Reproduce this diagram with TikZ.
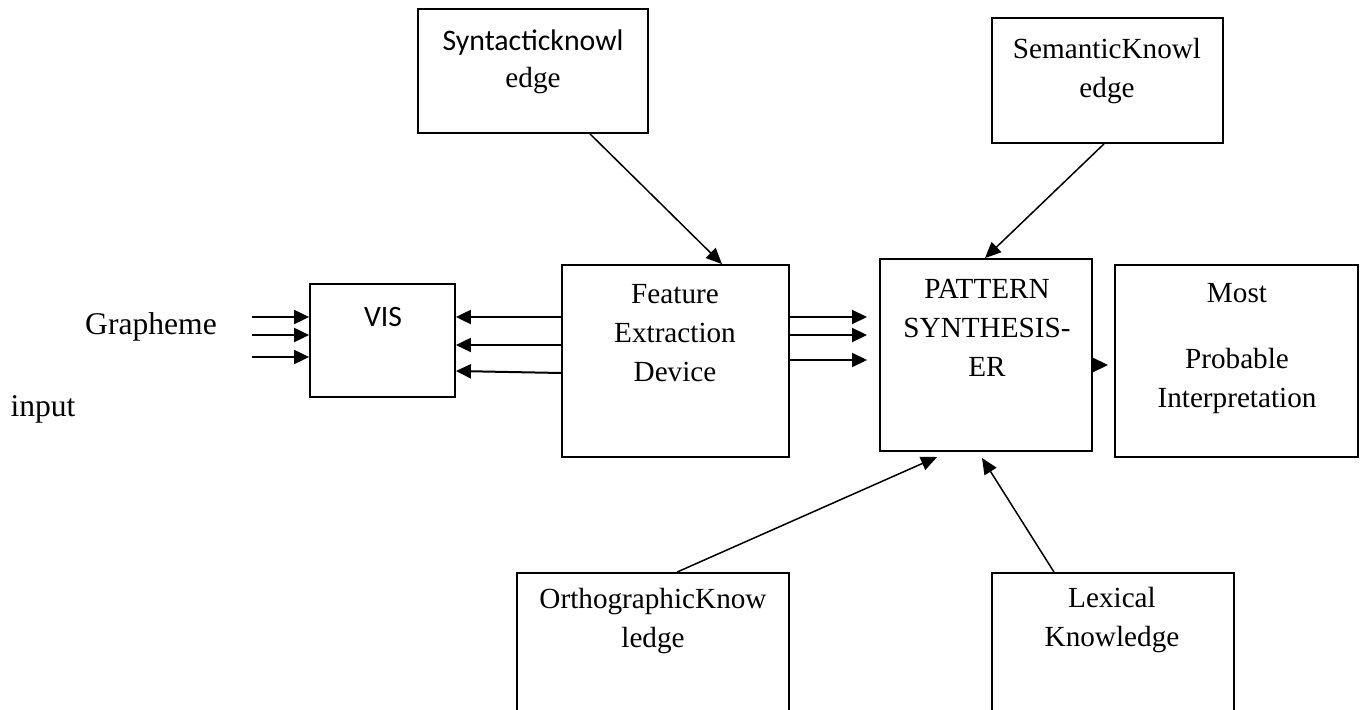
\documentclass[tikz,border=0pt]{standalone}
\usepackage{fontspec}
\setmainfont{Liberation Serif}
\newfontfamily\calib{Carlito}
\usetikzlibrary{arrows.meta,calc}
\begin{document}
\begin{tikzpicture}[x=0.5pt,y=-0.5pt,
  box/.style={draw,line width=0.9pt,rectangle,inner sep=0pt},
  txt/.style={align=center,inner sep=0pt,font=\fontsize{14.6}{19.5}\selectfont},
  big/.style={inner sep=0pt,font=\fontsize{15.8}{19.5}\selectfont},
  arr/.style={line width=1pt,-{Triangle[length=7.5pt,width=7pt]}},
  darr/.style={line width=0.75pt,-{Triangle[length=8pt,width=7pt]}}]
\useasboundingbox (0,0) rectangle (1364,710);
\clip (0,0) rectangle (1364,710);
% boxes
\node[box,minimum width=72.5pt,minimum height=56.5pt] (vis) at (382.5,340.5) {};
\node[box,minimum width=113.5pt,minimum height=96pt] (feat) at (675.5,361) {};
\node[box,minimum width=106pt,minimum height=96pt] (pat) at (986,355) {};
\node[box,minimum width=121.5pt,minimum height=96pt] (most) at (1236.5,361) {};
\node[box,minimum width=115pt,minimum height=62pt] (syn) at (533,71) {};
\node[box,minimum width=115.5pt,minimum height=62.5pt] (sem) at (1107.5,80.5) {};
\node[box,minimum width=136pt,minimum height=83.5pt] (orth) at (653,656.5) {};
\node[box,minimum width=121pt,minimum height=83.5pt] (lex) at (1113,656.5) {};
% texts
\node[big] (tg) at (151,327) {Grapheme};
\node[big] (ti) at (43,409) {input};
\node[txt,font=\calib\fontsize{14.8}{19}\selectfont] (tv) at (383,317) {VIS};
\node[txt] (tf) at (675,333) {Feature\\Extraction\\Device};
\node[txt] (tp) at (987,328) {PATTERN\\SYNTHESIS-\\ER};
\node[txt] (tm1) at (1237,293) {Most};
\node[txt] (tm2) at (1237,381) {Probable\\Interpretation};
\node[txt,font=\calib\fontsize{14.9}{19}\selectfont] (ts1) at (533,43) {Syntacticknowl};
\node[txt] (ts2) at (533,81) {edge};
\node[txt] (tse) at (1107,71) {SemanticKnowl\\edge};
\node[txt] (to) at (653,621) {OrthographicKnow\\ledge};
\node[txt] (tl) at (1112,620) {Lexical\\Knowledge};
% free ends
\coordinate (g1) at (252,317);
\coordinate (g2) at (252,335);
\coordinate (g3) at (252,357);
\coordinate (p1) at (867,317);
\coordinate (p2) at (867,335);
\coordinate (p3) at (867,360);
\coordinate (m1) at (1108,365);
% connectors
\draw[arr] (g1) -- (vis.west |- g1);
\draw[arr] (g2) -- (vis.west |- g2);
\draw[arr] (g3) -- (vis.west |- g3);
\draw[arr] (feat.west |- 0,317) -- (vis.east |- 0,317);
\draw[arr] (feat.west |- 0,345) -- (vis.east |- 0,345);
\draw[arr] (feat.west |- 0,373) -- (vis.east |- 0,371);
\draw[arr] (feat.east |- p1) -- (p1);
\draw[arr] (feat.east |- p2) -- (p2);
\draw[arr] (feat.east |- p3) -- (p3);
\draw[arr] (pat.east |- m1) -- (m1);
\draw[darr] (syn.south -| 590,0) -- (feat.north -| 722,0);
\draw[darr] (sem.south -| 1104,0) -- (pat.north -| 985,0);
\draw[darr] (orth.north -| 677,0) -- (937,457);
\draw[darr] (lex.north -| 1054,0) -- (982,458);
\end{tikzpicture}
\end{document}
